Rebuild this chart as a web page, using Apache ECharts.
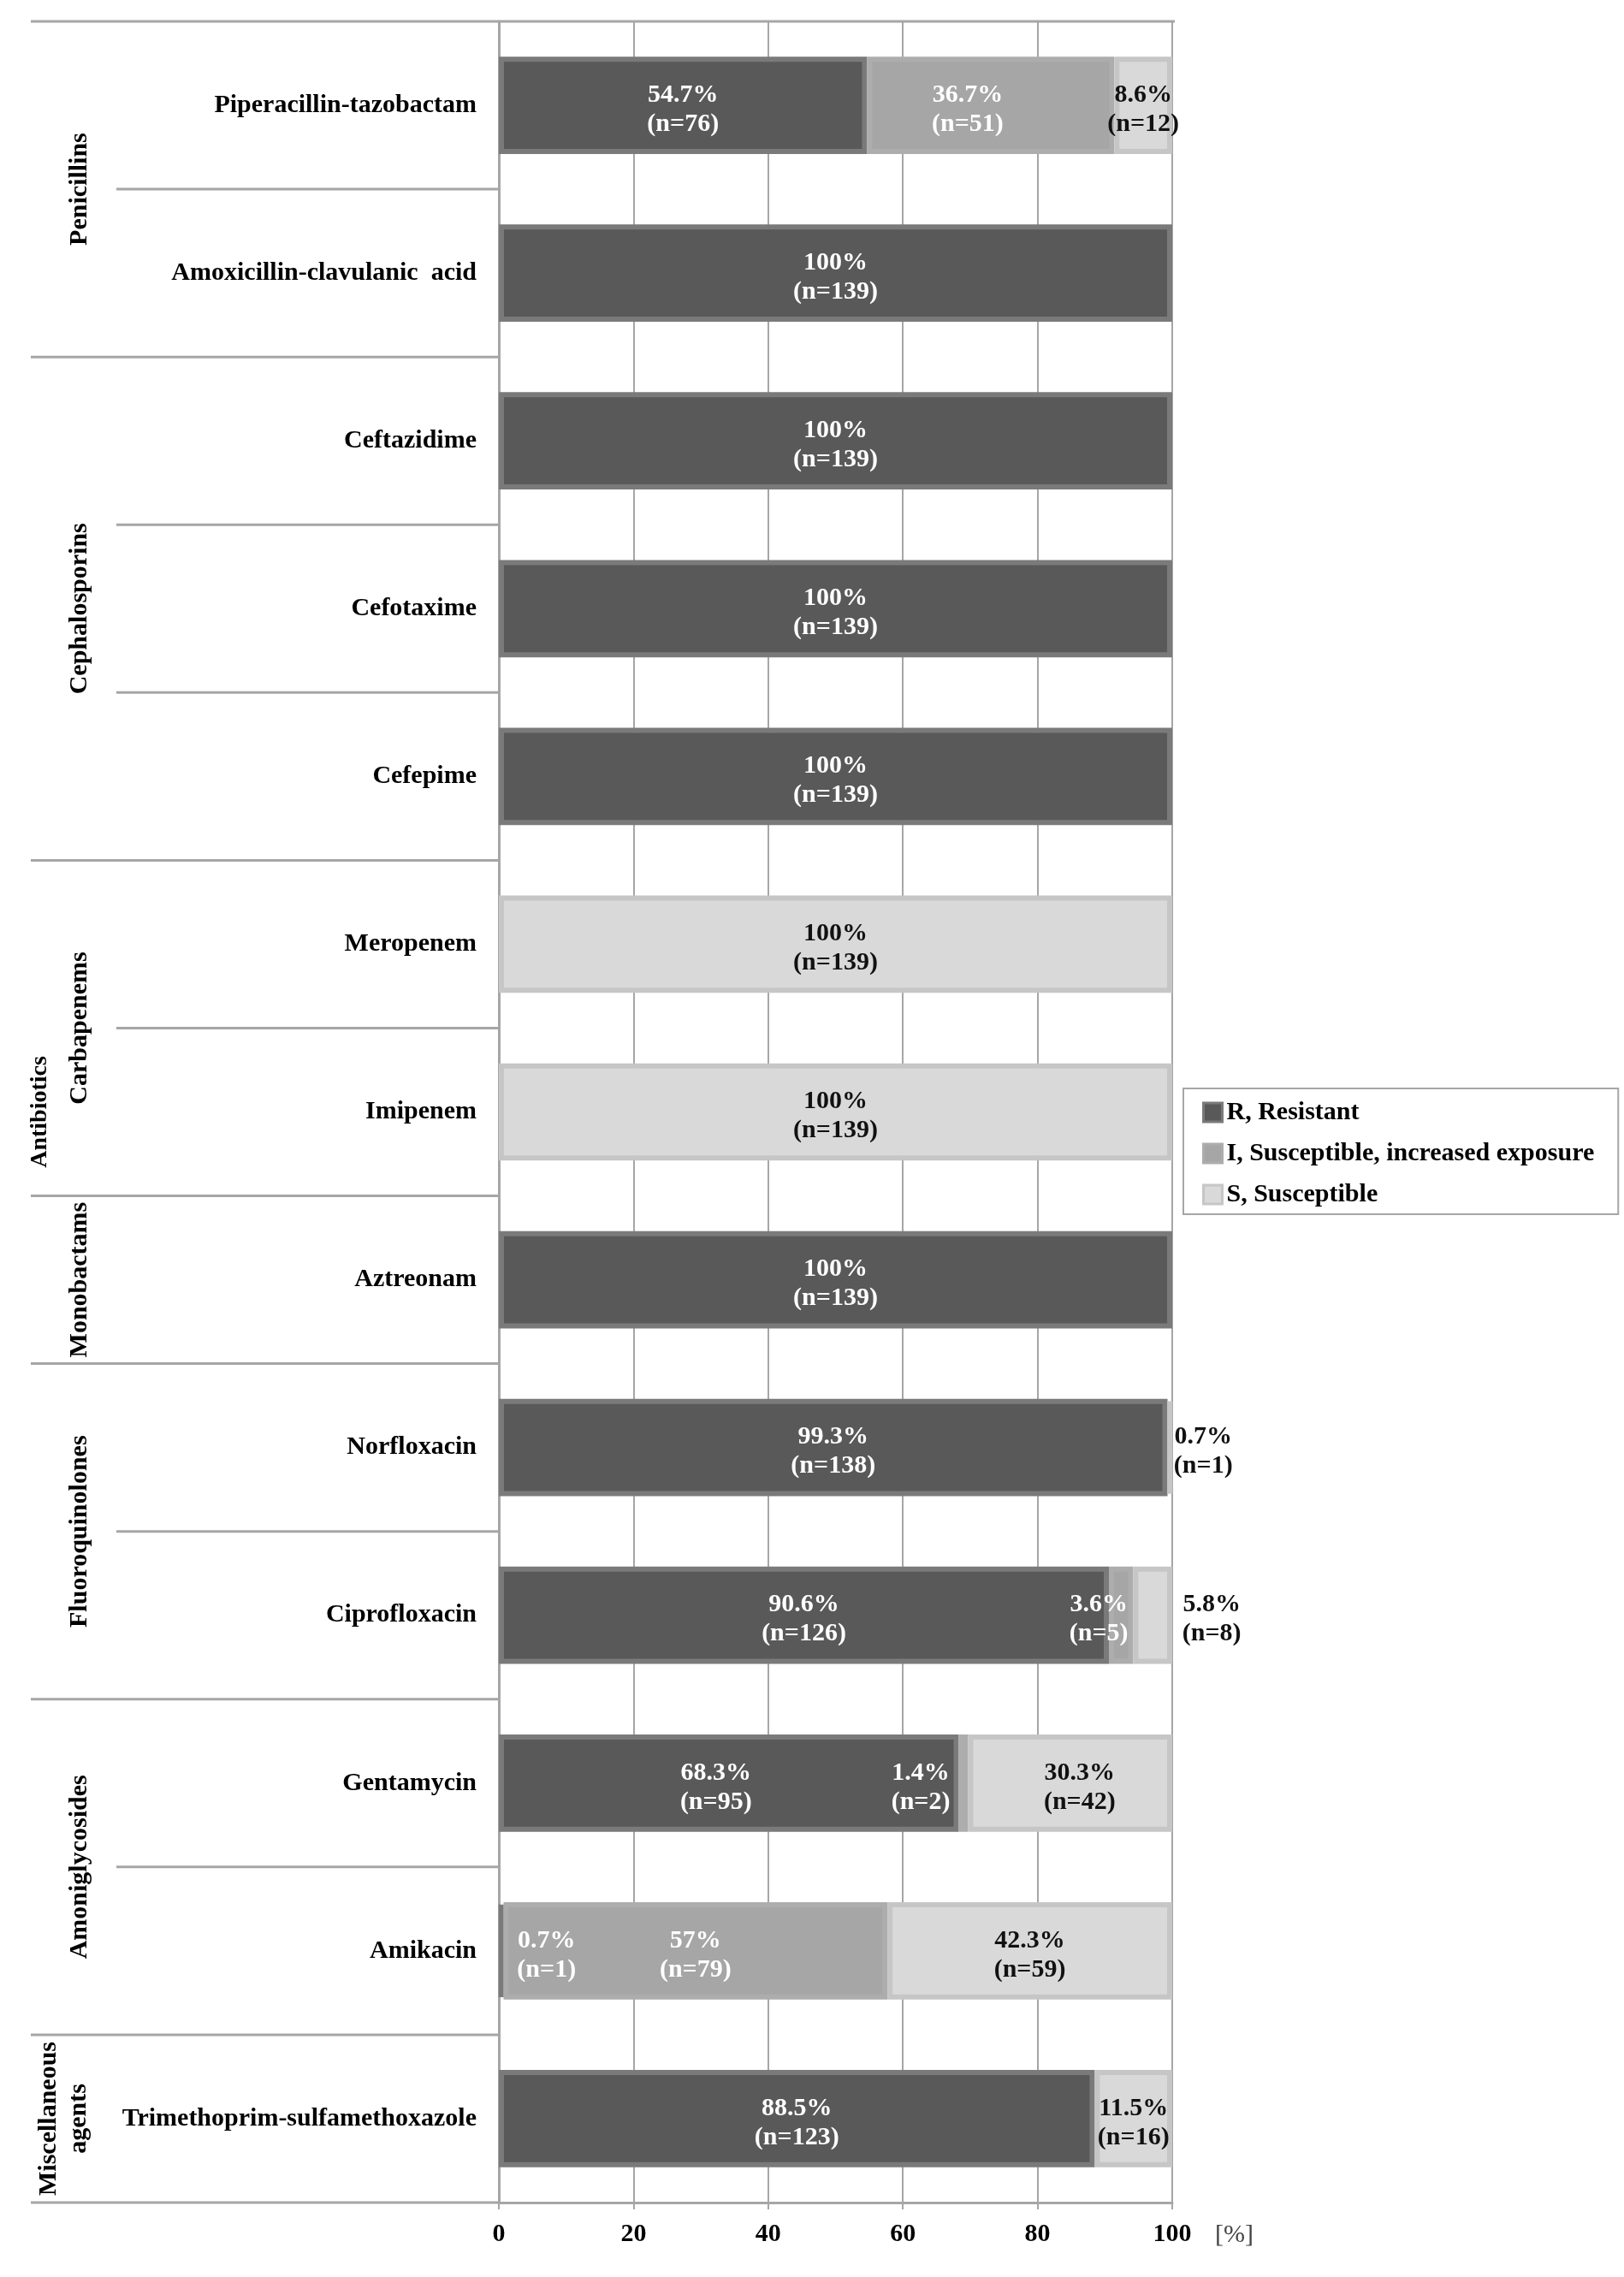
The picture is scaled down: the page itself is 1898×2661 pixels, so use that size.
<!DOCTYPE html>
<html>
<head>
<meta charset="utf-8">
<script src="https://cdn.jsdelivr.net/npm/echarts@6/dist/echarts.min.js"></script>
<style>
html,body{margin:0;padding:0;background:#fff;}
#chart{width:1898px;height:2661px;}
</style>
</head>
<body>
<div id="chart"></div>
<script>
// ---------- data ----------
const categories = ['Piperacillin-tazobactam','Amoxicillin-clavulanic  acid','Ceftazidime','Cefotaxime','Cefepime','Meropenem','Imipenem','Aztreonam','Norfloxacin','Ciprofloxacin','Gentamycin','Amikacin','Trimethoprim-sulfamethoxazole'];
const rPct = [54.7,100,100,100,100,0,0,100,99.3,90.6,68.3,0.7,88.5];
const iPct = [36.7,0,0,0,0,0,0,0,0,3.6,1.4,57,0];
const sPct = [8.6,0,0,0,0,100,100,0,0.7,5.8,30.3,42.3,11.5];
const rN = [76,139,139,139,139,0,0,139,138,126,95,1,123];
const iN = [51,0,0,0,0,0,0,0,0,5,2,79,0];
const sN = [12,0,0,0,0,139,139,0,1,8,42,59,16];
const seriesNames = ['R, Resistant','I, Susceptible, increased exposure','S, Susceptible'];
const groupNames = ['Penicillins','Cephalosporins','Carbapenems','Monobactams','Fluoroquinolones','Amoniglycosides','Miscellaneous\nagents'];
const groupSizes = [2,3,2,1,2,2,1];
const superGroup = 'Antibiotics';
const xTicks = [0,20,40,60,80,100];
const xUnit = '[%]';

// ---------- styles ----------
const FONT = "'Liberation Serif','Times New Roman',serif";
const GRID_COLOR = '#a6a6a6';
const labelShift = { 'I-0':[-27,5], 'S-8':[39,5], 'I-9':[-26,5], 'S-9':[69,5], 'I-10':[-50,5], 'R-10':[-15,5], 'S-10':[11,5], 'R-11':[53,5] };
const seriesStyles = [
  { key:'R', fill:'#595959', border:'#7a7a7a', text:'#ffffff' },
  { key:'I', fill:'#a6a6a6', border:'#adadad', text:'#ffffff' },
  { key:'S', fill:'#d9d9d9', border:'#c6c6c6', text:'#111111' }
];
const pctArrays = [rPct, iPct, sPct];
const nArrays = [rN, iN, sN];

function buildData(si){
  const st = seriesStyles[si];
  return pctArrays[si].map((v, i) => {
    const item = { value: v === 0 ? '-' : v, n: nArrays[si][i] };
    const off = labelShift[st.key + '-' + i];
    item.label = { offset: off || [0,5] };
    return item;
  });
}

const series = seriesStyles.map((st, si) => ({
  name: seriesNames[si],
  type: 'bar',
  stack: 'total',
  barCategoryGap: '42%',
  data: buildData(si),
  itemStyle: { color: st.fill, borderColor: st.border, borderWidth: 6 },
  label: {
    show: true,
    position: 'inside',
    color: st.text,
    fontFamily: FONT,
    fontWeight: 'bold',
    fontSize: 30,
    lineHeight: 34,
    formatter: p => p.value + '%\n(n=' + p.data.n + ')'
  },
  emphasis: { disabled: true }
}));

const chart = echarts.init(document.getElementById('chart'));
const option = {
  backgroundColor: '#ffffff',
  animation: false,
  grid: { left: 583, right: 528, top: 25, bottom: 87 },
  legend: {
    orient: 'vertical',
    left: 1383,
    top: 1272,
    padding: [13, 28, 8, 22],
    itemGap: 18,
    itemWidth: 22,
    itemHeight: 22,
    borderColor: GRID_COLOR,
    borderWidth: 2,
    icon: 'rect',
    itemStyle: { borderWidth: 3 },
    textStyle: { fontFamily: FONT, fontWeight: 'bold', fontSize: 30, lineHeight: 30, color: '#000' },
    data: seriesNames
  },
  xAxis: {
    type: 'value',
    min: xTicks[0],
    max: xTicks[xTicks.length - 1],
    interval: xTicks[1] - xTicks[0],
    axisLine: { show: true, lineStyle: { color: GRID_COLOR, width: 3 } },
    axisTick: { show: true, length: 8, lineStyle: { color: GRID_COLOR, width: 2 } },
    axisLabel: { fontFamily: FONT, fontWeight: 'bold', fontSize: 30, color: '#000', margin: 22 },
    splitLine: { show: true, lineStyle: { color: GRID_COLOR, width: 2 } }
  },
  yAxis: {
    type: 'category',
    inverse: true,
    data: categories,
    axisLine: { show: true, lineStyle: { color: GRID_COLOR, width: 3 } },
    axisTick: { show: false },
    axisLabel: { fontFamily: FONT, fontWeight: 'bold', fontSize: 30, color: '#000', margin: 26 }
  },
  series: series
};
chart.setOption(option);

// ---------- group labels & separators (positions from the axes) ----------
const yc = categories.map((c, i) => chart.convertToPixel({ yAxisIndex: 0 }, i));
const band = yc[1] - yc[0];
const x0 = chart.convertToPixel({ xAxisIndex: 0 }, xTicks[0]);
const x100 = chart.convertToPixel({ xAxisIndex: 0 }, xTicks[xTicks.length - 1]);
const OUTER_X = 36, INNER_X = 136, GROUP_LABEL_X = 93, SUPER_LABEL_X = 47;
const lineStyle = { stroke: GRID_COLOR, lineWidth: 3 };
const graphics = [];
const topY = yc[0] - band / 2;
const botY = yc[yc.length - 1] + band / 2;
graphics.push({ type: 'line', shape: { x1: OUTER_X, y1: topY, x2: x100 + 3, y2: topY }, style: lineStyle, silent: true });
graphics.push({ type: 'line', shape: { x1: OUTER_X, y1: botY, x2: x0, y2: botY }, style: lineStyle, silent: true });
let start = 0;
groupSizes.forEach((sz, gi) => {
  const gTop = yc[start] - band / 2;
  const gBot = yc[start + sz - 1] + band / 2;
  for (let k = 1; k < sz; k++) {
    const y = yc[start + k] - band / 2;
    graphics.push({ type: 'line', shape: { x1: INNER_X, y1: y, x2: x0, y2: y }, style: lineStyle, silent: true });
  }
  if (gi < groupSizes.length - 1) {
    graphics.push({ type: 'line', shape: { x1: OUTER_X, y1: gBot, x2: x0, y2: gBot }, style: lineStyle, silent: true });
  }
  const isTwo = groupNames[gi].indexOf('\n') >= 0;
  graphics.push({
    type: 'text',
    x: isTwo ? 75 : GROUP_LABEL_X,
    y: (gTop + gBot) / 2,
    rotation: Math.PI / 2,
    silent: true,
    style: { text: groupNames[gi], fontFamily: FONT, fontWeight: 'bold', fontSize: 30, lineHeight: 35, fill: '#000', align: 'center', verticalAlign: 'middle' }
  });
  start += sz;
});
graphics.push({
  type: 'text',
  x: SUPER_LABEL_X,
  y: (topY + botY) / 2,
  rotation: Math.PI / 2,
  silent: true,
  style: { text: superGroup, fontFamily: FONT, fontWeight: 'bold', fontSize: 28, fill: '#000', align: 'center', verticalAlign: 'middle' }
});
// unit label next to the last tick label
graphics.push({
  type: 'text',
  x: x100 + 50,
  y: botY + 38,
  silent: true,
  style: { text: xUnit, fontFamily: FONT, fontSize: 30, fill: '#444', align: 'left', verticalAlign: 'middle' }
});
chart.setOption({ graphic: graphics });
</script>
</body>
</html>
